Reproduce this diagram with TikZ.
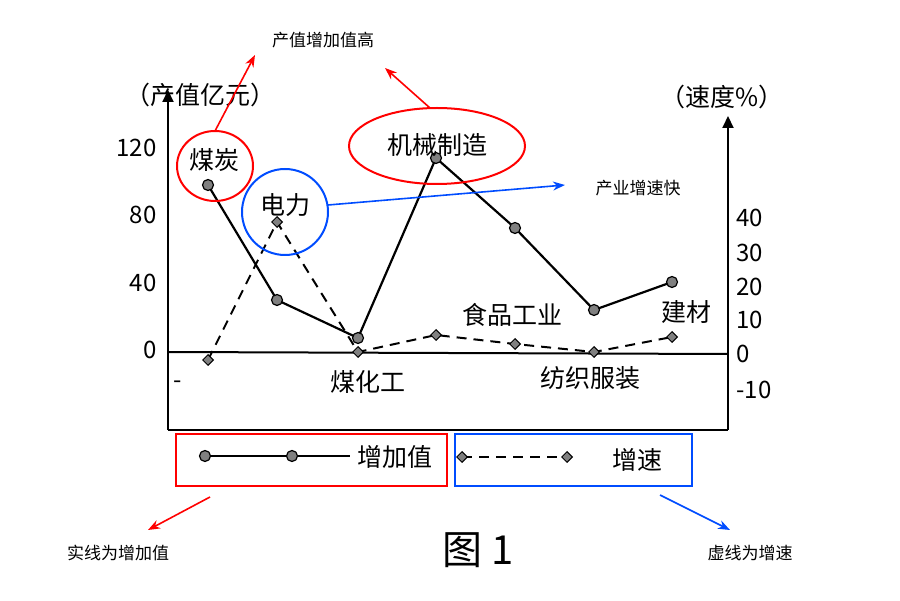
\documentclass[tikz,border=0pt]{standalone}
\usepackage{fontspec}
\newfontfamily\cjk{Noto Sans CJK SC}
\usetikzlibrary{arrows.meta}
\tikzset{
    dot/.style={circle,draw,line width=1.2pt,fill=gray,inner sep=0pt,minimum size=11pt},
    dia/.style={diamond,draw,line width=1pt,fill=gray,inner sep=0pt,minimum size=11pt},
    lab/.style={font=\cjk\fontsize{25}{27}\selectfont},
    note/.style={font=\cjk\fontsize{17}{19}\selectfont},
    tk/.style={font=\cjk\fontsize{24}{26}\selectfont},
    ring/.style={line width=2pt},
    redarr/.style={red,-{Stealth[length=12pt,width=9pt]},line width=1.6pt},
    bluearr/.style={blue!70!cyan,-{Stealth[length=12pt,width=9pt]},line width=1.6pt},
  }
\usetikzlibrary{shapes.geometric}
\begin{document}
\begin{tikzpicture}[x=1pt,y=-1pt]
				  \useasboundingbox (0,0) rectangle (900,601);
				  %axes
				  \draw[line width=2pt,-{Triangle[length=12pt,width=11pt]}] (168,430) -- (168,90);
				  \draw[line width=2pt,-{Triangle[length=12pt,width=11pt]}] (728,430) -- (728,116);
				  \draw[line width=2pt] (168,430) -- (728,430);
				  \draw[line width=2pt] (168,352) -- (728,354);
				  \node[lab] (yl) at (200,95) {（产值亿元）};
				  \node[lab] (yr) at (722,97) {（速度\%）};
				  \foreach \v/\y in {120/148,80/215,40/283,0/350}
				    \node[tk,anchor=east] at (160,\y) {\v};
				  \node[tk] at (178,385) {-};
				  \foreach \v/\y in {40/218,30/253,20/287,10/320,0/354,-10/390}
				    \node[tk,anchor=west] at (733,\y) {\v};
				  %series
				  \foreach \n/\x/\a/\b in {1/208/185/360,2/277/300/222,3/358/338/352,4/436/158/335,5/515/228/344,6/594/310/352,7/672/282/337} {
				    \coordinate (s\n) at (\x,\a);
				    \coordinate (d\n) at (\x,\b);
				  }
				  \draw[line width=2.2pt] (s1) -- (s2) -- (s3) -- (s4) -- (s5) -- (s6) -- (s7);
				  \draw[line width=2pt,dash pattern=on 10pt off 7pt] (d1) -- (d2) -- (d3) -- (d4) -- (d5) -- (d6) -- (d7);
				  \foreach \n in {1,...,7} {
				    \node[dot] at (s\n) {};
				    \node[dia] at (d\n) {};
				  }
				  %labels
				  \node[lab] (coal) at (214,160) {煤炭};
				  \node[lab] (power) at (285,205) {电力};
				  \node[lab] (mach) at (437,145) {机械制造};
				  \node[lab] at (512,315) {食品工业};
				  \node[lab] at (686,312) {建材};
				  \node[lab] at (368,382) {煤化工};
				  \node[lab] at (590,378) {纺织服装};
				  \draw[red,ring] (215,166) ellipse (38 and 35);
				  \draw[blue!70!cyan,ring] (285,212) circle (43);
				  \draw[red,ring] (437,146) ellipse (88 and 38);
				  %legend
				  \draw[red,ring] (176,434) rectangle (447,486);
				  \draw[blue!70!cyan,ring] (455,434) rectangle (692,486);
				  \coordinate (l1) at (205,456);
				  \coordinate (l2) at (292,456);
				  \coordinate (l3) at (462,457);
				  \coordinate (l4) at (567,457);
				  \draw[line width=2.2pt] (l1) -- (350,456);
				  \draw[line width=2pt,dash pattern=on 10pt off 7pt] (l3) -- (l4);
				  \node[dot] at (l1) {};
				  \node[dot] at (l2) {};
				  \node[dia] at (l3) {};
				  \node[dia] at (l4) {};
				  \node[lab] at (395,457) {增加值};
				  \node[lab] at (637,460) {增速};
				  %notes
				  \node[note] (high) at (323,40) {产值增加值高};
				  \node[note] (fast) at (638,188) {产业增速快};
				  \node[note] (solid) at (118,553) {实线为增加值};
				  \node[note] (dash) at (750,553) {虚线为增速};
				  \node[font=\cjk\fontsize{40}{42}\selectfont] (fig) at (478,550) {图 1};
				  \draw[redarr] (215,131) -- (255,55);
				  \draw[redarr] (430,108) -- (385,68);
				  \draw[bluearr] (328,205) -- (565,185);
				  \draw[redarr] (210,497) -- (148,530);
				  \draw[bluearr] (660,495) -- (730,530);
				  \end{tikzpicture}
\end{document}
